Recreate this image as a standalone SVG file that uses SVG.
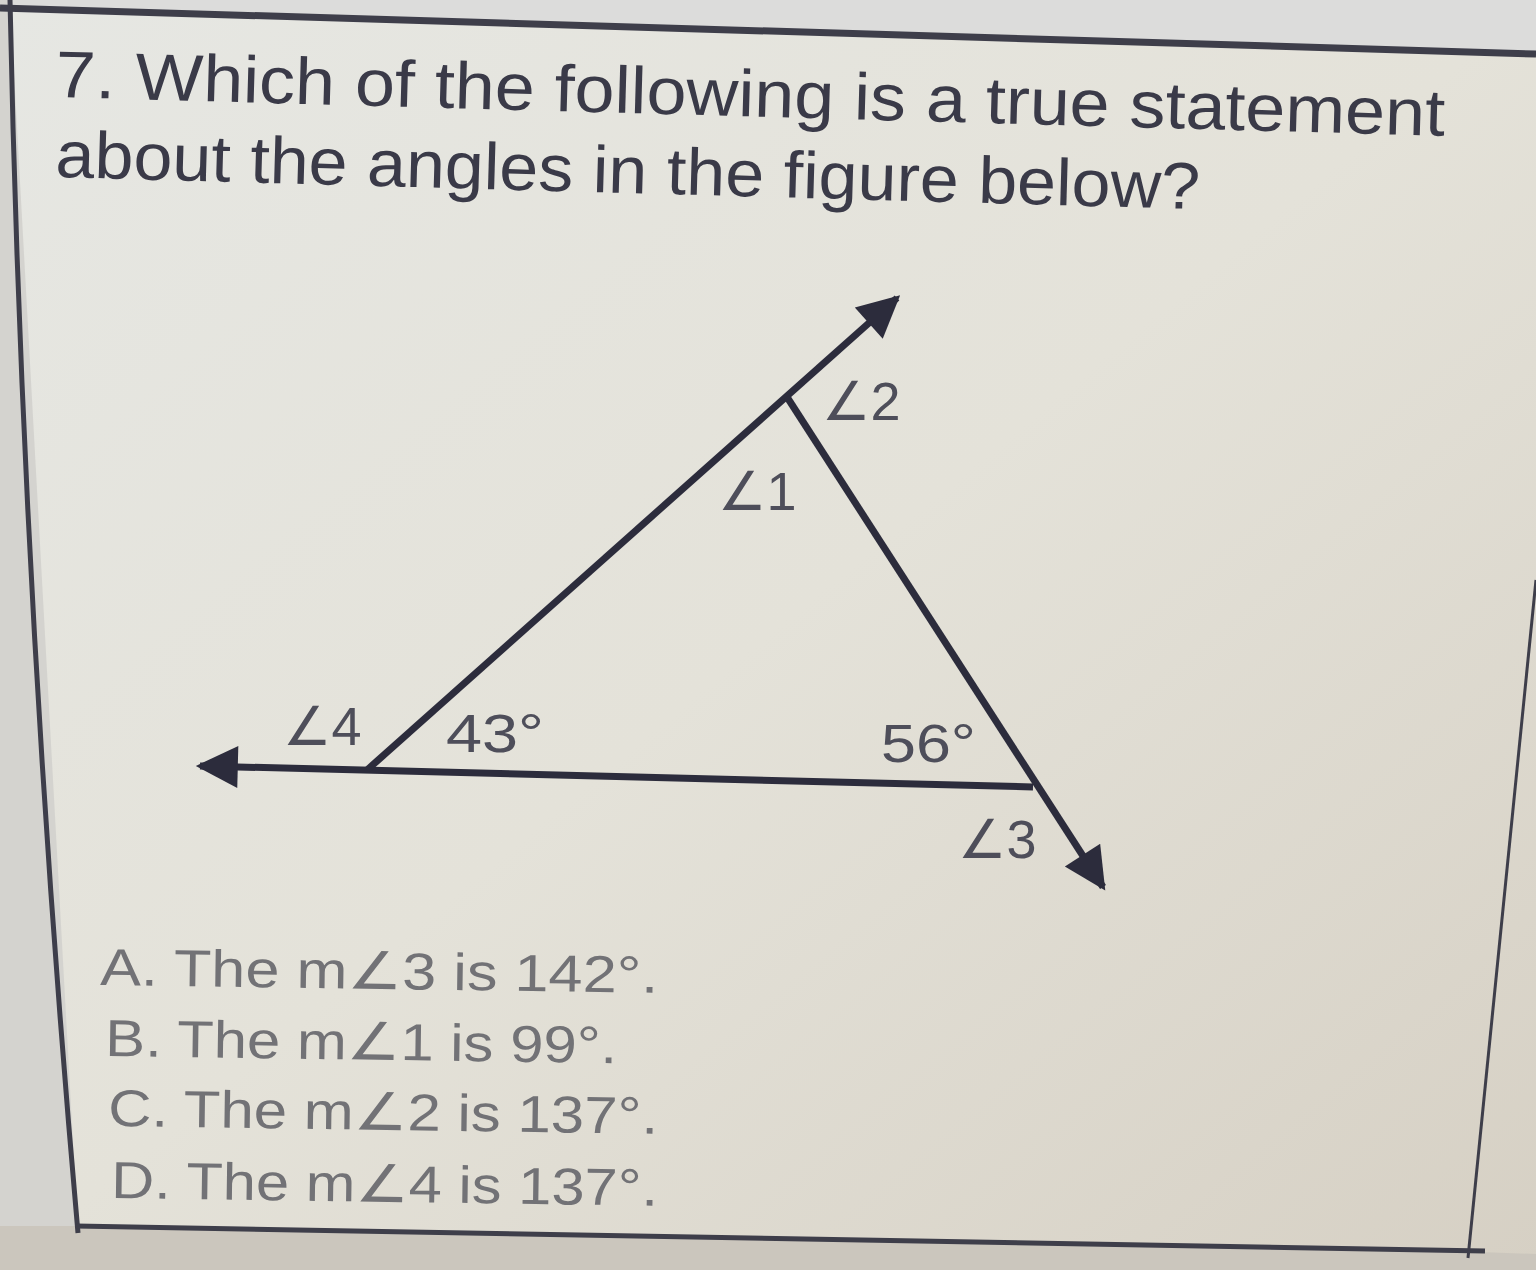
<svg xmlns="http://www.w3.org/2000/svg" width="1536" height="1270" viewBox="0 0 1536 1270">
  <defs>
    <linearGradient id="paper" x1="0" y1="0" x2="1" y2="1">
      <stop offset="0" stop-color="#e6e7e3"/>
      <stop offset="0.5" stop-color="#e4e2d9"/>
      <stop offset="1" stop-color="#d6d0c4"/>
    </linearGradient>
    <marker id="arrow" viewBox="0 0 10 10" refX="9" refY="5" markerWidth="6.5" markerHeight="6" markerUnits="strokeWidth" orient="auto">
      <path d="M0,0 L10,5 L0,10 Z" fill="#2c2c3c"/>
    </marker>
    <style>
      .title { font-family: "Liberation Sans", "DejaVu Sans", sans-serif; font-size: 66px; fill: #3a3a48; }
      .ans { font-family: "Liberation Sans", "DejaVu Sans", sans-serif; font-size: 52px; fill: #727276; }
      .lbl { font-family: "Liberation Sans", "DejaVu Sans", sans-serif; font-size: 54px; fill: #4e4e5a; }
      .ray { stroke: #2c2c3c; stroke-width: 7; fill: none; stroke-linecap: butt; }
      .border { stroke: #3e3e4a; fill: none; }
    </style>
  </defs>

  <rect width="1536" height="1270" fill="url(#paper)"/>
  <!-- outside areas -->
  <polygon points="0,0 1536,0 1536,54 0,8" fill="#dcdcdb"/>
  <polygon points="0,0 10,0 78,1233 0,1270" fill="#d4d3cf"/>
  <polygon points="0,1226 78,1226 1480,1252 1536,1254 1536,1270 0,1270" fill="#cbc6bd"/>

  <!-- page borders -->
  <g id="borders">
    <line class="border" x1="0" y1="8" x2="1536" y2="54" stroke-width="7"/>
    <path class="border" d="M10,0 Q22,600 78,1233" stroke-width="5"/>
    <line class="border" x1="76" y1="1226" x2="1485" y2="1251" stroke-width="5"/>
    <line class="border" x1="1536" y1="580" x2="1468" y2="1258" stroke-width="3"/>
  </g>

  <!-- question text -->
  <g id="question">
    <text class="title" x="55" y="97" textLength="1390" lengthAdjust="spacingAndGlyphs" transform="rotate(1.6 55 97)">7. Which of the following is a true statement</text>
    <text class="title" x="55" y="177" textLength="1145" lengthAdjust="spacingAndGlyphs" transform="rotate(1.6 55 177)">about the angles in the figure below?</text>
  </g>

  <!-- figure connectors -->
  <g id="connectors">
    <line id="ray-left" class="ray" x1="1033" y1="787" x2="200" y2="766" marker-end="url(#arrow)"/>
    <line id="ray-up" class="ray" x1="367" y1="770" x2="897" y2="298" marker-end="url(#arrow)"/>
    <line id="ray-down" class="ray" x1="787" y1="397" x2="1103" y2="887" marker-end="url(#arrow)"/>
  </g>

  <!-- angle labels -->
  <g id="label-angle2"><text class="lbl" x="822" y="420">∠2</text></g>
  <g id="label-angle1"><text class="lbl" x="718" y="510">∠1</text></g>
  <g id="label-angle4"><text class="lbl" x="283" y="745">∠4</text></g>
  <g id="label-43"><text class="lbl" x="446" y="752" textLength="98" lengthAdjust="spacingAndGlyphs">43°</text></g>
  <g id="label-56"><text class="lbl" x="881" y="762" textLength="95" lengthAdjust="spacingAndGlyphs">56°</text></g>
  <g id="label-angle3"><text class="lbl" x="958" y="858">∠3</text></g>

  <!-- answer choices -->
  <g id="choices">
    <text class="ans" x="100" y="985" textLength="558" lengthAdjust="spacingAndGlyphs" transform="rotate(0.8 100 985)">A. The m∠3 is 142°.</text>
    <text class="ans" x="105" y="1056" textLength="512" lengthAdjust="spacingAndGlyphs" transform="rotate(0.8 105 1056)">B. The m∠1 is 99°.</text>
    <text class="ans" x="108" y="1126" textLength="550" lengthAdjust="spacingAndGlyphs" transform="rotate(0.8 108 1126)">C. The m∠2 is 137°.</text>
    <text class="ans" x="111" y="1198" textLength="547" lengthAdjust="spacingAndGlyphs" transform="rotate(0.8 111 1198)">D. The m∠4 is 137°.</text>
  </g>
</svg>
